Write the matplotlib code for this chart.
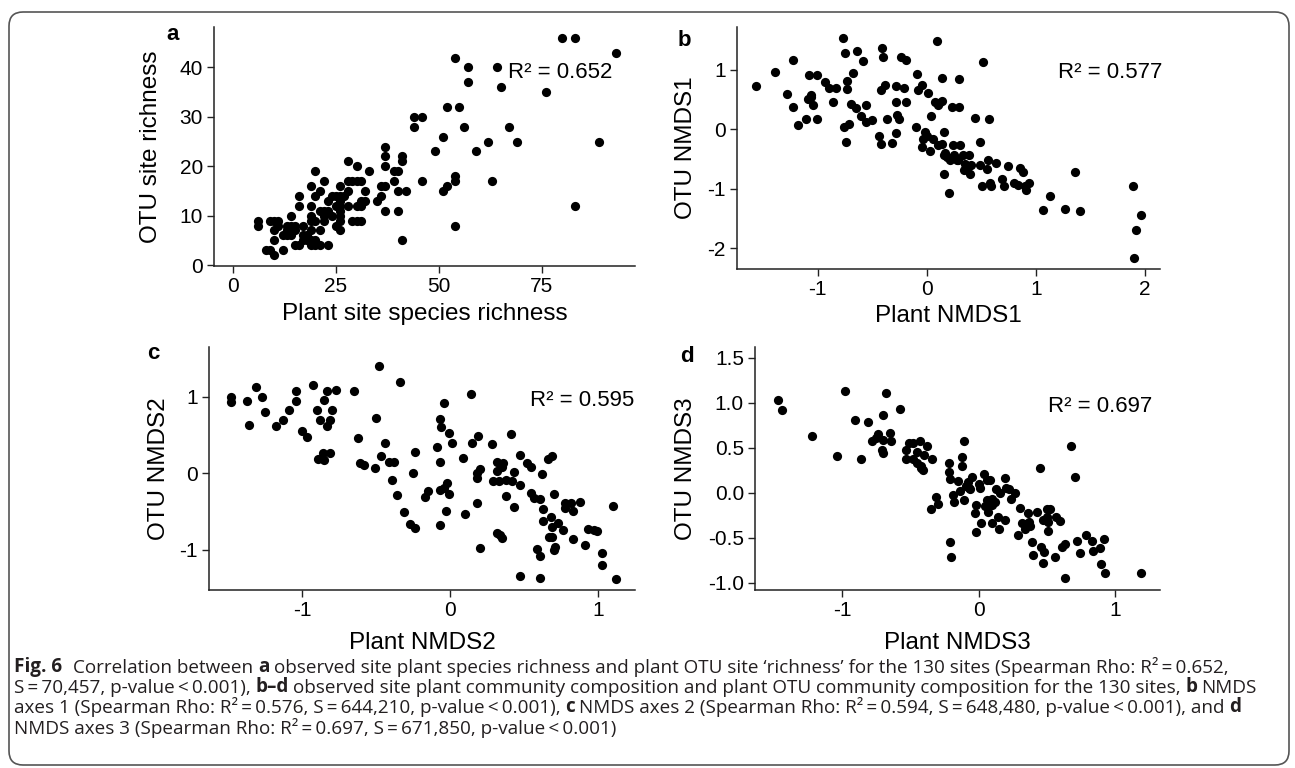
import matplotlib
matplotlib.use("Agg")
import matplotlib.pyplot as plt
from matplotlib.patches import FancyBboxPatch
from matplotlib.text import Annotation
from matplotlib.transforms import IdentityTransform
from matplotlib.ticker import FormatStrFormatter

plt.rcParams['font.family'] = ['Liberation Sans', 'DejaVu Sans']
plt.rcParams['axes.unicode_minus'] = False

W, H = 1295, 768

# panel a: species richness
a_plant = [80, 83, 93, 54, 57, 64, 57, 65, 76, 44, 46, 44, 52, 55, 56, 67, 51, 62, 69, 89,
           49, 59, 37, 37, 41, 41, 28, 30, 37, 33, 39, 40, 20, 46, 54, 54, 63, 52, 51, 39,
           36, 37, 35, 36, 40, 42, 37, 40, 41, 54, 83, 29, 28, 31, 28, 32, 31, 32, 30, 28,
           30, 29, 31, 26, 25, 26, 23, 26, 26, 26, 26, 24, 26, 25, 26, 22, 21, 20, 19, 16,
           16, 19, 21, 22, 19, 20, 22, 19, 21, 19, 18, 17, 14, 15, 15, 13, 13, 12, 14, 15,
           16, 18, 19, 20, 21, 23, 17, 10, 9, 11, 6, 6, 10, 10, 8, 9, 10, 12, 24, 13,
           17, 20, 22, 27, 30, 31, 23, 25, 19, 14, 11]
a_otu = [46, 46, 43, 42, 40, 40, 37, 36, 35, 30, 30, 28, 32, 32, 28, 28, 26, 25, 25, 25,
         23, 23, 24, 22, 22, 21, 21, 20, 20, 19, 19, 19, 19, 17, 18, 17, 17, 16, 15, 17,
         16, 16, 13, 14, 15, 15, 11, 11, 5, 8, 12, 17, 17, 17, 15, 15, 13, 13, 12, 12,
         9, 9, 9, 16, 14, 14, 13, 13, 12, 11, 10, 10, 9, 8, 7, 17, 15, 14, 16, 14,
         12, 12, 11, 11, 10, 9, 9, 9, 7, 7, 6, 8, 10, 8, 7, 8, 7, 6, 6, 4,
         4, 5, 4, 4, 4, 4, 5, 9, 9, 9, 9, 8, 7, 5, 3, 3, 2, 3, 14, 6,
         6, 5, 10, 14, 17, 12, 11, 12, 5, 8, 8]

# panel b: NMDS1
b_plant = [-1.57, -1.39, -1.23, -1.28, -1.23, -1.18, -1.11, -1.08, -1.01, -1.09,
           -1.06, -1.06, -1.04, -1.01, -0.93, -0.90, -0.86, -0.83, -0.77, -0.75,
           -0.73, -0.73, -0.68, -0.69, -0.65, -0.64, -0.58, -0.76, -0.71, -0.74,
           -0.60, -0.56, -0.56, -0.50, -0.41, -0.40, -0.42, -0.38, -0.36, -0.44,
           -0.42, -0.32, -0.28, -0.28, -0.21, -0.28, -0.27, -0.25, -0.24, -0.19,
           -0.19, -0.09, -0.08, -0.04, 0.01, -0.10, 0.04, 0.09, 0.14, 0.30,
           0.08, 0.11, 0.14, 0.10, 0.23, 0.30, 0.44, 0.57, 0.52, -0.02,
           0.00, -0.03, -0.04, 0.03, 0.06, 0.10, 0.14, 0.16, 0.16, 0.19,
           0.21, 0.24, 0.25, 0.28, 0.31, 0.33, 0.39, 0.35, 0.36, 0.41,
           0.40, 0.16, 0.20, 0.49, 0.49, 0.55, 0.56, 0.51, 0.58, 0.59,
           0.64, 0.69, 0.71, 0.75, 0.80, 0.86, 0.88, 0.84, 0.91, 0.94,
           1.13, 1.07, 1.27, 1.41, 1.36, 1.89, 1.97, 1.92, 1.90,
           0.17, 0.29, 0.38, 0.34, 0.20, 0.90]
b_otu = [0.72, 0.97, 1.17, 0.60, 0.37, 0.08, 0.18, 0.91, 0.91, 0.51,
         0.58, 0.54, 0.40, 0.17, 0.79, 0.69, 0.46, 0.69, 1.54, 1.28,
         0.82, 0.67, 0.94, 0.43, 0.35, 1.31, 1.15, 0.03, 0.09, -0.22,
         0.23, 0.40, 0.13, 0.16, 1.37, 1.22, 0.66, 0.75, 0.17, -0.12,
         -0.25, -0.23, -0.06, 0.73, 0.70, 0.46, 0.24, 0.17, 1.22, 1.17,
         0.46, 0.93, 0.66, 0.74, 0.61, 0.04, 0.23, 1.48, 0.87, 0.85,
         0.46, 0.44, 0.47, 0.41, 0.37, 0.37, 0.19, 0.17, 1.13, -0.05,
         -0.12, -0.17, -0.30, -0.36, -0.17, -0.27, -0.24, -0.04, -0.43, -0.46,
         -0.51, -0.27, -0.43, -0.51, -0.26, -0.44, -0.44, -0.58, -0.66, -0.60,
         -0.75, -0.75, -1.07, -0.22, -0.60, -0.66, -0.52, -0.96, -0.91, -0.96,
         -0.56, -0.83, -0.96, -0.61, -0.91, -0.65, -0.72, -0.93, -1.02, -0.91,
         -1.12, -1.36, -1.34, -1.37, -0.72, -0.96, -1.45, -1.70, -2.17,
         -0.40, -0.51, -0.63, -0.68, -0.49, -0.95]

# panel c: NMDS2
c_plant = [-1.48, -1.48, -1.37, -1.36, -1.31, -1.27, -1.25, -1.18, -1.13, -1.09,
           -1.04, -1.04, -1.00, -0.97, -0.93, -0.90, -0.88, -0.85, -0.83, -0.83,
           -0.81, -0.80, -0.89, -0.86, -0.85, -0.81, -0.77, -0.65, -0.62, -0.61,
           -0.58, -0.51, -0.50, -0.48, -0.47, -0.44, -0.41, -0.39, -0.38, -0.36,
           -0.34, -0.31, -0.27, -0.24, -0.25, -0.24, -0.17, -0.15, -0.09, -0.07,
           -0.06, -0.07, -0.04, -0.01, 0.01, -0.07, -0.04, -0.02, -0.01, -0.03,
           -0.07, 0.09, 0.10, 0.14, 0.15, 0.19, 0.18, 0.18, 0.20, 0.18,
           0.20, 0.28, 0.29, 0.32, 0.32, 0.33, 0.36, 0.35, 0.38, 0.38,
           0.41, 0.42, 0.43, 0.47, 0.47, 0.32, 0.34, 0.35, 0.43, 0.47,
           0.52, 0.55, 0.55, 0.57, 0.61, 0.62, 0.63, 0.61, 0.59, 0.61,
           0.63, 0.66, 0.69, 0.68, 0.67, 0.69, 0.70, 0.69, 0.71, 0.70,
           0.73, 0.76, 0.78, 0.78, 0.82, 0.83, 0.83, 0.88, 0.91, 0.93,
           0.97, 0.99, 1.03, 1.03, 1.10, 1.12]
c_otu = [1.00, 0.93, 0.94, 0.63, 1.13, 1.00, 0.80, 0.62, 0.70, 0.83,
         1.07, 0.94, 0.55, 0.47, 1.15, 0.82, 0.69, 0.95, 1.07, 0.62,
         0.70, 0.82, 0.18, 0.26, 0.17, 0.26, 1.09, 1.08, 0.46, 0.13,
         0.10, 0.07, 0.72, 1.40, 0.23, 0.39, 0.15, -0.09, 0.14, -0.29,
         1.19, -0.51, -0.67, -0.72, 0.00, 0.28, -0.31, -0.23, 0.34, 0.71,
         0.60, 0.14, 0.92, 0.52, 0.40, -0.22, -0.19, -0.13, -0.28, -0.50,
         -0.68, 0.20, -0.53, 1.04, 0.39, 0.48, -0.06, 0.00, 0.06, -0.39,
         -0.98, 0.38, -0.10, 0.15, 0.03, -0.10, 0.13, 0.08, -0.09, -0.30,
         0.51, -0.11, 0.02, -0.16, 0.24, -0.78, -0.81, -0.85, -0.44, -1.35,
         0.13, 0.08, -0.26, -0.33, -0.34, -0.01, -0.47, -1.37, -0.99, -1.08,
         -0.63, 0.18, 0.22, -0.57, -0.83, -0.84, -0.28, -0.70, -0.97, -1.00,
         -0.65, -0.75, -0.39, -0.46, -0.39, -0.49, -0.86, -0.38, -0.94, -0.73,
         -0.74, -0.76, -1.05, -1.20, -0.43, -1.38]

# panel d: NMDS3
d_plant = [-1.47, -1.44, -1.22, -1.04, -0.98, -0.91, -0.86, -0.81, -0.78, -0.75,
           -0.74, -0.71, -0.70, -0.70, -0.70, -0.68, -0.65, -0.64, -0.58, -0.53,
           -0.53, -0.51, -0.48, -0.48, -0.45, -0.43, -0.42, -0.41, -0.40, -0.38,
           -0.34, -0.35, -0.31, -0.30, -0.22, -0.22, -0.21, -0.21, -0.20, -0.19,
           -0.18, -0.15, -0.12, -0.12, -0.11, -0.14, -0.11, -0.09, -0.08, -0.05,
           -0.06, -0.02, -0.03, -0.02, 0.01, 0.02, 0.04, 0.06, 0.06, 0.07,
           0.08, 0.10, 0.10, 0.10, 0.13, 0.14, 0.15, 0.16, 0.19, 0.19,
           0.22, 0.24, 0.27, 0.29, 0.30, 0.32, 0.34, 0.36, 0.37, 0.38,
           0.39, 0.40, 0.43, 0.45, 0.46, 0.47, 0.47, 0.48, 0.50, 0.50,
           0.52, 0.51, 0.51, 0.56, 0.57, 0.60, 0.61, 0.63, 0.63, 0.68,
           0.71, 0.72, 0.74, 0.79, 0.83, 0.84, 0.89, 0.90, 0.92, 0.93, 1.19,
           0.00, -0.07, 0.12, 0.35, 0.05, -0.45, -0.42, 0.20]
d_otu = [1.03, 0.92, 0.63, 0.41, 1.13, 0.81, 0.38, 0.79, 0.58, 0.61,
         0.65, 0.47, 0.44, 0.87, 0.59, 1.11, 0.66, 0.58, 0.93, 0.47,
         0.38, 0.55, 0.55, 0.38, 0.33, 0.58, 0.27, 0.25, 0.42, 0.52,
         0.37, -0.18, -0.05, -0.12, 0.33, 0.23, 0.15, -0.55, -0.71, -0.03,
         -0.10, 0.13, 0.30, 0.40, 0.58, 0.02, -0.08, 0.08, 0.12, 0.17,
         0.04, -0.14, -0.22, -0.44, 0.05, -0.33, 0.21, 0.14, -0.08, -0.21,
         0.14, -0.07, -0.14, -0.34, 0.04, -0.27, -0.40, 0.00, 0.16, -0.30,
         0.04, -0.07, 0.00, -0.47, -0.17, -0.34, -0.40, -0.22, -0.32, -0.37,
         -0.55, -0.69, -0.21, 0.27, -0.60, -0.30, -0.78, -0.66, -0.27, -0.18,
         -0.18, -0.32, -0.42, -0.71, -0.27, -0.31, -0.60, -0.57, -0.95, 0.52,
         0.17, -0.54, -0.67, -0.47, -0.54, -0.65, -0.61, -0.79, -0.51, -0.89, -0.89,
         0.10, 0.05, -0.10, -0.35, -0.15, 0.45, 0.30, 0.05]

letters = ["a", "b", "c", "d"]
x_titles = ["Plant site species richness", "Plant NMDS1", "Plant NMDS2", "Plant NMDS3"]
y_titles = ["OTU site richness", "OTU NMDS1", "OTU NMDS2", "OTU NMDS3"]
r2_labels = ["0.652", "0.577", "0.595", "0.697"]
x_ticks = [[0, 25, 50, 75], [-1, 0, 1, 2], [-1, 0, 1], [-1, 0, 1]]
y_ticks = [[0, 10, 20, 30, 40], [-2, -1, 0, 1], [-1, 0, 1], [-1.0, -0.5, 0.0, 0.5, 1.0, 1.5]]

caption = [
    [("Fig. 6", True, 8), ("Correlation between", False, 3.2), ("a", True, 3.2),
     ("observed site plant species richness and plant OTU site \u2018richness\u2019 for the 130 sites "
      "(Spearman Rho: R\u00b2\u2009=\u20090.652,", False, 0)],
    [("S\u2009=\u200970,457, p-value\u2009<\u20090.001),", False, 3.2), ("b\u2013d", True, 3.2),
     ("observed site plant community composition and plant OTU community composition for the 130 sites,",
      False, 3.2), ("b", True, 3.2), ("NMDS", False, 0)],
    [("axes 1 (Spearman Rho: R\u00b2\u2009=\u20090.576, S\u2009=\u2009644,210, p-value\u2009<\u20090.001),",
      False, 3.2), ("c", True, 3.2),
     ("NMDS axes 2 (Spearman Rho: R\u00b2\u2009=\u20090.594, S\u2009=\u2009648,480, p-value\u2009<\u20090.001), and",
      False, 3.2), ("d", True, 0)],
    [("NMDS axes 3 (Spearman Rho: R\u00b2\u2009=\u20090.697, S\u2009=\u2009671,850, p-value\u2009<\u20090.001)",
      False, 0)],
]


def fx(px):
    return px / W


def fy(py):
    return 1 - py / H


def main():
    fig = plt.figure(figsize=(W / 100, H / 100), dpi=100)

    # rounded frame around figure + caption
    frame = FancyBboxPatch((9, 3), 1280, 753, boxstyle="round,pad=0,rounding_size=14",
                           transform=IdentityTransform(), fill=False,
                           edgecolor="#555555", linewidth=1.2)
    fig.add_artist(frame)

    # left, top, right, bottom in pixels
    boxes = [(214, 27, 635, 266), (737, 27, 1160, 269), (209, 347, 635, 590), (755, 347, 1160, 590)]
    xlims = [(-4.65, 97.65), (-1.74, 2.14), (-1.63, 1.25), (-1.64, 1.33)]
    ylims = [(-0.2, 48.2), (-2.35, 1.72), (-1.53, 1.65), (-1.08, 1.62)]
    data = [(a_plant, a_otu), (b_plant, b_otu), (c_plant, c_otu), (d_plant, d_otu)]
    xlabel_y = [314, 316, 643, 643]
    ylabel_x = [151, 686, 159, 686]
    letter_pos = [(173, 35), (684, 40), (153, 353), (687, 357)]
    r2_pos = [(612, 72), (1162, 73), (634, 400), (1152, 407)]

    for i in range(4):
        l, t, r, b = boxes[i]
        ax = fig.add_axes([fx(l), fy(b), (r - l) / W, (b - t) / H])
        x, y = data[i]
        ax.scatter(x, y, s=44, color="black", linewidths=0)
        ax.set_xlim(*xlims[i])
        ax.set_ylim(*ylims[i])
        ax.set_xticks(x_ticks[i])
        ax.set_yticks(y_ticks[i])
        if i == 3:
            ax.yaxis.set_major_formatter(FormatStrFormatter("%.1f"))
        for side in ["top", "right"]:
            ax.spines[side].set_visible(False)
        for side in ["left", "bottom"]:
            ax.spines[side].set_linewidth(1.1)
            ax.spines[side].set_color("#222222")
        ax.tick_params(length=5, width=1.0, color="#222222", labelsize=15, pad=3)

        ax.set_xlabel(x_titles[i], fontsize=17.5)
        ax.xaxis.label.set_va("center")
        ax.xaxis.set_label_coords(fx((l + r) / 2), fy(xlabel_y[i]), transform=fig.transFigure)
        ax.set_ylabel(y_titles[i], fontsize=17.5)
        ax.yaxis.label.set_va("center")
        ax.yaxis.set_label_coords(fx(ylabel_x[i]), fy((t + b) / 2), transform=fig.transFigure)

        fig.text(fx(letter_pos[i][0]), fy(letter_pos[i][1]), letters[i], fontsize=16,
                 fontweight="bold", ha="center", va="center")
        fig.text(fx(r2_pos[i][0]), fy(r2_pos[i][1]), "R\u00b2 = " + r2_labels[i], fontsize=16,
                 ha="right", va="center")

    # caption with bold pieces, chained left to right
    cap_font = ["Open Sans", "DejaVu Sans"]
    cap_size = 13.6
    baselines = [672, 693, 713, 734]
    for line, base in zip(caption, baselines):
        prev = None
        prev_gap = 0
        for text, bold, gap in line:
            weight = "bold" if bold else "normal"
            if prev is None:
                prev = fig.text(fx(14), fy(base), text, fontsize=cap_size, family=cap_font,
                                fontweight=weight, color="#231f20", va="baseline", ha="left")
            else:
                ann = Annotation(text, xy=(1, 0), xycoords=prev, xytext=(prev_gap, 0),
                                 textcoords="offset points", fontsize=cap_size, family=cap_font,
                                 fontweight=weight, color="#231f20", va="bottom", ha="left")
                fig.add_artist(ann)
                prev = ann
            prev_gap = gap

    fig.savefig("out.png", dpi=100)


if __name__ == "__main__":
    main()
